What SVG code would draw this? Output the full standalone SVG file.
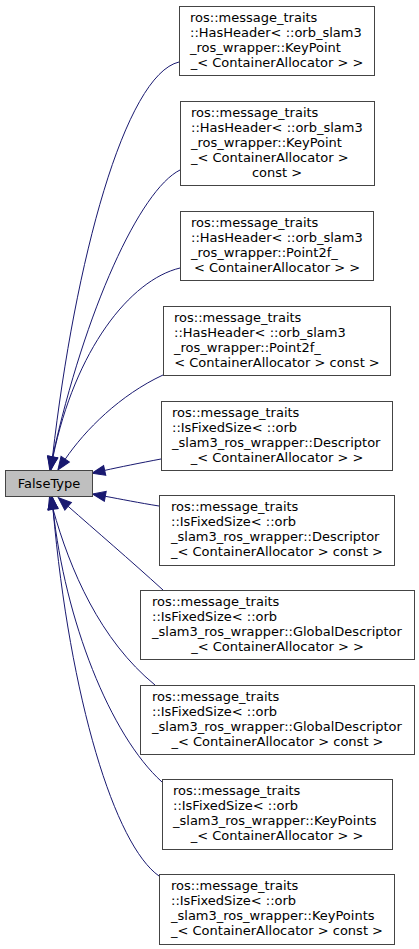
<svg xmlns="http://www.w3.org/2000/svg" width="419" height="949" viewBox="0 0 419 949">
<style>
.box{fill:#ffffff;stroke:#444444;stroke-width:1}
.base{fill:#bfbfbf;stroke:#444444;stroke-width:1}
text{font-family:"DejaVu Sans","Liberation Sans",sans-serif;font-size:13px;fill:#000000}
.c{text-anchor:middle}
.e{fill:none;stroke:#191970;stroke-width:1;marker-end:url(#ah)}
</style>
<defs>
<marker id="ah" markerUnits="userSpaceOnUse" markerWidth="13" markerHeight="10" refX="0" refY="5" orient="auto" overflow="visible">
<path d="M0,0 L13,5 L0,10 z" fill="#191970" stroke="#191970" stroke-width="1"/>
</marker>
</defs>
<rect width="419" height="949" fill="#ffffff"/>
<g id="connectors">
<path class="e" d="M179,62 C125,75 75,260 52.5,457"/>
<path class="e" d="M180,170 C140,190 85,310 52.5,457"/>
<path class="e" d="M180,268 C130,280 75,350 53,457"/>
<path class="e" d="M163,375 C120,395 85,430 65.2,459.2"/>
<path class="e" d="M161,459 C140,463 120,467 104.7,470.4"/>
<path class="e" d="M159,506 C140,503 120,499 105.3,496.3"/>
<path class="e" d="M163,590 C130,560 95,530 68.1,506.3"/>
<path class="e" d="M155,685 C100,640 70,570 53,509"/>
<path class="e" d="M162,782 C110,735 65,620 53,509"/>
<path class="e" d="M159,876 C115,845 70,700 53,509"/>
</g>
<g id="FalseType">
<rect class="base" x="5.5" y="470.5" width="87" height="26"/>
<text class="c" x="49" y="488">FalseType</text>
</g>
<g id="n1">
<rect class="box" x="179.5" y="6.5" width="195" height="69"/>
<text x="190" y="22">ros::message_traits</text>
<text x="190" y="37">::HasHeader&lt; ::orb_slam3</text>
<text x="190" y="52">_ros_wrapper::KeyPoint</text>
<text class="c" x="277" y="67">_&lt; ContainerAllocator &gt; &gt;</text>
</g>
<g id="n2">
<rect class="box" x="180.5" y="101.5" width="194" height="84"/>
<text x="191" y="117">ros::message_traits</text>
<text x="191" y="132">::HasHeader&lt; ::orb_slam3</text>
<text x="191" y="147">_ros_wrapper::KeyPoint</text>
<text x="191" y="162">_&lt; ContainerAllocator &gt;</text>
<text class="c" x="277" y="177">const &gt;</text>
</g>
<g id="n3">
<rect class="box" x="180.5" y="211.5" width="193" height="69"/>
<text x="191" y="227">ros::message_traits</text>
<text x="191" y="242">::HasHeader&lt; ::orb_slam3</text>
<text x="191" y="257">_ros_wrapper::Point2f_</text>
<text class="c" x="277" y="272">&lt; ContainerAllocator &gt; &gt;</text>
</g>
<g id="n4">
<rect class="box" x="163.5" y="306.5" width="227" height="69"/>
<text x="174" y="322">ros::message_traits</text>
<text x="174" y="337">::HasHeader&lt; ::orb_slam3</text>
<text x="174" y="352">_ros_wrapper::Point2f_</text>
<text class="c" x="277" y="367">&lt; ContainerAllocator &gt; const &gt;</text>
</g>
<g id="n5">
<rect class="box" x="161.5" y="401.5" width="231" height="69"/>
<text x="172" y="417">ros::message_traits</text>
<text x="172" y="432">::IsFixedSize&lt; ::orb</text>
<text x="172" y="447">_slam3_ros_wrapper::Descriptor</text>
<text class="c" x="277" y="462">_&lt; ContainerAllocator &gt; &gt;</text>
</g>
<g id="n6">
<rect class="box" x="159.5" y="495.5" width="235" height="70"/>
<text x="171" y="511">ros::message_traits</text>
<text x="171" y="526">::IsFixedSize&lt; ::orb</text>
<text x="171" y="541">_slam3_ros_wrapper::Descriptor</text>
<text class="c" x="277" y="556">_&lt; ContainerAllocator &gt; const &gt;</text>
</g>
<g id="n7">
<rect class="box" x="140.5" y="590.5" width="274" height="69"/>
<text x="152" y="606">ros::message_traits</text>
<text x="152" y="621">::IsFixedSize&lt; ::orb</text>
<text x="152" y="636">_slam3_ros_wrapper::GlobalDescriptor</text>
<text class="c" x="277.5" y="651">_&lt; ContainerAllocator &gt; &gt;</text>
</g>
<g id="n8">
<rect class="box" x="140.5" y="685.5" width="274" height="69"/>
<text x="152" y="701">ros::message_traits</text>
<text x="152" y="716">::IsFixedSize&lt; ::orb</text>
<text x="152" y="731">_slam3_ros_wrapper::GlobalDescriptor</text>
<text class="c" x="277.5" y="746">_&lt; ContainerAllocator &gt; const &gt;</text>
</g>
<g id="n9">
<rect class="box" x="162.5" y="779.5" width="230" height="70"/>
<text x="173" y="795">ros::message_traits</text>
<text x="173" y="810">::IsFixedSize&lt; ::orb</text>
<text x="173" y="825">_slam3_ros_wrapper::KeyPoints</text>
<text class="c" x="277" y="840">_&lt; ContainerAllocator &gt; &gt;</text>
</g>
<g id="n10">
<rect class="box" x="159.5" y="874.5" width="235" height="70"/>
<text x="171" y="890">ros::message_traits</text>
<text x="171" y="905">::IsFixedSize&lt; ::orb</text>
<text x="171" y="920">_slam3_ros_wrapper::KeyPoints</text>
<text class="c" x="277" y="935">_&lt; ContainerAllocator &gt; const &gt;</text>
</g>
</svg>
